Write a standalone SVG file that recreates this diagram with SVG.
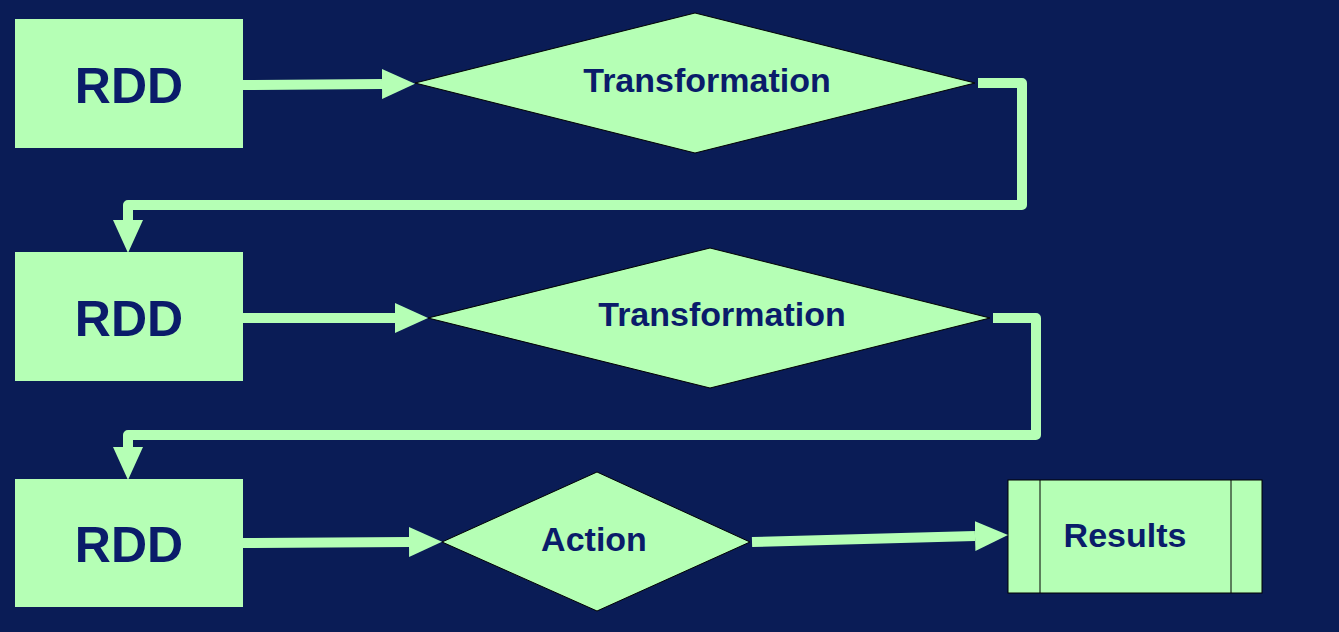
<svg xmlns="http://www.w3.org/2000/svg" width="1339" height="632" viewBox="0 0 1339 632">
<defs>
<style>
.n{fill:#b5ffb5}
.d{fill:#b5ffb5;stroke:#000;stroke-width:1}
.t{font-family:"Liberation Sans",Arial,sans-serif;font-weight:bold;fill:#0a1c6a;text-anchor:middle;dominant-baseline:central}
.big{font-size:50px}
.mid{font-size:34px}
.c{fill:none;stroke:#b5ffb5;stroke-width:10;stroke-linejoin:round}
</style>
<marker id="ah" markerUnits="userSpaceOnUse" markerWidth="34" markerHeight="32" refX="0" refY="16" orient="auto"><path d="M0,1 L33,16 L0,31 z" fill="#b5ffb5"/></marker>
</defs>
<rect width="1339" height="632" fill="#0a1c56"/>
<g id="rdd1"><rect class="n" x="15" y="19" width="228" height="129"/><text class="t big" x="129" y="86">RDD</text></g>
<g id="rdd2"><rect class="n" x="15" y="252" width="228" height="129"/><text class="t big" x="129" y="319">RDD</text></g>
<g id="rdd3"><rect class="n" x="15" y="479" width="228" height="128"/><text class="t big" x="129" y="545">RDD</text></g>
<g id="t1"><polygon class="d" points="415,83 695,13 975,83 695,153"/><text class="t mid" x="707" y="80">Transformation</text></g>
<g id="t2"><polygon class="d" points="428,318 710,248 990,318 710,388"/><text class="t mid" x="722" y="314">Transformation</text></g>
<g id="action"><polygon class="d" points="442,542 597,472 750,542 597,611"/><text class="t mid" x="594" y="539">Action</text></g>
<g id="results"><rect class="d" x="1008" y="480" width="254" height="113"/><line x1="1040" y1="480" x2="1040" y2="593" stroke="#000"/><line x1="1231" y1="480" x2="1231" y2="593" stroke="#000"/><text class="t mid" x="1125" y="535">Results</text></g>
<g id="connectors">
<path class="c" d="M243,85 L382,84" marker-end="url(#ah)"/>
<path class="c" d="M978,83 L1022,83 L1022,205 L128,205 L128,220" marker-end="url(#ah)"/>
<path class="c" d="M243,318 L395,318" marker-end="url(#ah)"/>
<path class="c" d="M993,318 L1036,318 L1036,435 L128,435 L128,447" marker-end="url(#ah)"/>
<path class="c" d="M243,543 L409,542" marker-end="url(#ah)"/>
<path class="c" d="M752,542 L975,536" marker-end="url(#ah)"/>
</g>
</svg>
